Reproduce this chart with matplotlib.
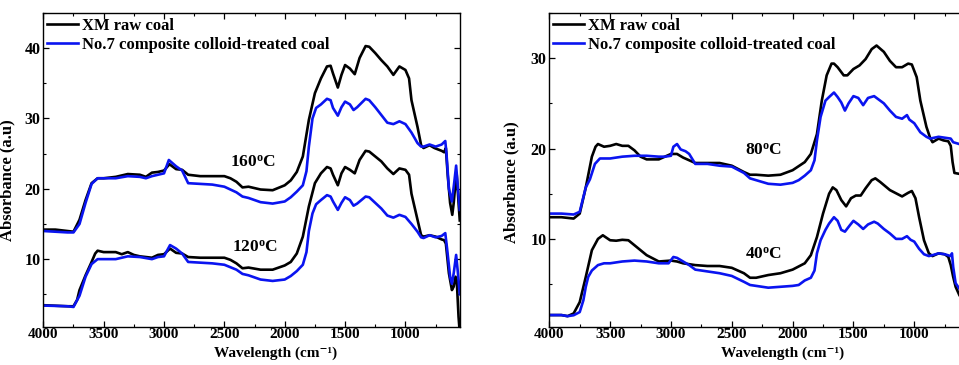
import matplotlib
matplotlib.use("Agg")
import matplotlib.pyplot as plt
from matplotlib.ticker import MultipleLocator

plt.rcParams['font.family'] = ['Liberation Serif', 'DejaVu Serif']
plt.rcParams['font.weight'] = 'bold'
plt.rcParams['mathtext.fontset'] = 'custom'
plt.rcParams['mathtext.rm'] = 'Liberation Serif:bold'
plt.rcParams['mathtext.bf'] = 'Liberation Serif:bold'
plt.rcParams['mathtext.it'] = 'Liberation Serif:italic:bold'

legend_labels = ["XM raw coal", "No.7 composite colloid-treated coal"]
temp_labels = ["160$^{\\mathrm{o}}$C", "120$^{\\mathrm{o}}$C", "80$^{\\mathrm{o}}$C", "40$^{\\mathrm{o}}$C"]
xlabel_text = "Wavelength (cm\u207b\u00b9)"
ylabel_text = "Absorbance (a.u)"
xticks = [4000, 3500, 3000, 2500, 2000, 1500, 1000]

# ---------- Left panel: 160 C ----------
wn_160_raw = [4000, 3900, 3800, 3750, 3700, 3650, 3600, 3550, 3500, 3400, 3300, 3200, 3150, 3100, 3050,
              3000, 2955, 2900, 2850, 2800, 2700, 2500, 2450, 2400, 2350, 2300, 2200, 2100, 2000, 1950,
              1900, 1850, 1800, 1750, 1700, 1650, 1620, 1600, 1560, 1530, 1500, 1460, 1420, 1380, 1330,
              1300, 1250, 1200, 1150, 1100, 1050, 1000, 970, 950, 900, 870, 850, 800, 760, 700, 680,
              665, 650, 630, 612, 600, 585, 575, 560, 550]
ab_160_raw = [14.2, 14.2, 14.0, 13.9, 15.6, 18.4, 20.8, 21.5, 21.5, 21.7, 22.1, 22.0, 21.7, 22.3, 22.4,
              22.6, 23.5, 22.8, 22.7, 22.0, 21.8, 21.8, 21.5, 21.0, 20.2, 20.3, 19.9, 19.8, 20.5, 21.2,
              22.4, 24.6, 29.8, 33.6, 35.7, 37.4, 37.5, 36.4, 34.4, 36.2, 37.6, 37.1, 36.3, 38.6, 40.3,
              40.2, 39.3, 38.3, 37.4, 36.2, 37.4, 36.9, 35.7, 32.6, 28.8, 26.2, 25.8, 26.2, 25.8, 25.4, 25.2,
              25.8, 22.0, 18.0, 16.3, 18.0, 21.0, 22.0, 18.0, 15.5]

wn_160_trt = [4000, 3800, 3750, 3700, 3650, 3600, 3550, 3500, 3400, 3300, 3200, 3150, 3100, 3050, 3000,
              2960, 2900, 2850, 2800, 2700, 2600, 2500, 2400, 2350, 2300, 2200, 2100, 2000, 1950, 1900,
              1850, 1820, 1800, 1770, 1740, 1700, 1650, 1620, 1600, 1560, 1530, 1500, 1460, 1430, 1400,
              1330, 1300, 1250, 1200, 1150, 1100, 1050, 1000, 950, 900, 870, 850, 800, 750, 700, 670,
              660, 640, 615, 595, 580, 565, 550]
ab_160_trt = [14.0, 13.8, 13.8, 15.0, 18.0, 20.7, 21.5, 21.5, 21.5, 21.8, 21.7, 21.5, 21.8, 22.0, 22.2,
              24.1, 23.2, 22.6, 20.8, 20.7, 20.6, 20.3, 19.5, 18.9, 18.7, 18.1, 17.9, 18.2, 18.8, 19.6,
              20.5, 22.5, 26.0, 30.0, 31.5, 32.0, 32.8, 32.6, 31.5, 30.4, 31.6, 32.4, 32.0, 31.2, 31.6,
              32.8, 32.6, 31.6, 30.5, 29.4, 29.2, 29.6, 29.2, 28.0, 26.5, 26.0, 26.0, 26.3, 26.0, 26.3, 26.8,
              25.0, 20.0, 18.2, 21.0, 23.3, 20.0, 17.0]

# ---------- Left panel: 120 C ----------
wn_120_raw = [4000, 3800, 3750, 3720, 3700, 3650, 3600, 3570, 3550, 3500, 3400, 3350, 3300, 3250, 3200,
              3100, 3050, 3000, 2950, 2900, 2850, 2800, 2700, 2500, 2450, 2400, 2350, 2300, 2200, 2100,
              2000, 1950, 1900, 1850, 1800, 1750, 1700, 1650, 1620, 1600, 1560, 1530, 1500, 1460, 1420,
              1380, 1330, 1300, 1250, 1200, 1150, 1100, 1050, 1000, 970, 950, 900, 870, 850, 800, 750,
              700, 680, 665, 640, 615, 600, 585, 575, 560, 552]
ab_120_raw = [3.45, 3.3, 3.3, 4.2, 5.6, 7.7, 9.6, 10.8, 11.2, 11.0, 11.0, 10.7, 11.0, 10.6, 10.4,
              10.2, 10.6, 10.7, 11.5, 10.9, 10.8, 10.3, 10.2, 10.2, 9.9, 9.4, 8.7, 8.8, 8.5, 8.5,
              9.1, 9.6, 10.8, 13.2, 17.5, 20.8, 22.2, 23.1, 22.9, 22.0, 20.5, 22.2, 23.1, 22.7, 22.2,
              24.1, 25.4, 25.3, 24.6, 23.9, 22.9, 22.1, 22.9, 22.7, 22.0, 19.3, 15.6, 13.4, 13.2, 13.4, 13.2,
              12.8, 12.7, 12.2, 8.0, 5.6, 6.1, 7.5, 7.0, 1.8, 0.0]

wn_120_trt = [4000, 3800, 3750, 3700, 3650, 3600, 3550, 3500, 3400, 3300, 3200, 3100, 3050, 3000, 2950,
              2900, 2850, 2800, 2700, 2600, 2500, 2400, 2350, 2300, 2200, 2100, 2000, 1950, 1900, 1850,
              1820, 1800, 1770, 1740, 1700, 1650, 1620, 1600, 1560, 1530, 1500, 1460, 1430, 1400, 1330,
              1300, 1250, 1200, 1150, 1100, 1050, 1000, 950, 900, 870, 850, 800, 750, 700, 670, 655,
              630, 615, 600, 580, 565, 550]
ab_120_trt = [3.4, 3.3, 3.2, 4.8, 7.5, 9.3, 10.0, 10.0, 10.0, 10.4, 10.3, 10.0, 10.3, 10.4, 12.0,
              11.5, 10.8, 9.6, 9.5, 9.4, 9.2, 8.5, 7.9, 7.7, 7.1, 6.9, 7.1, 7.6, 8.3, 9.2,
              11.0, 14.0, 16.5, 17.8, 18.4, 19.1, 18.9, 18.2, 17.0, 18.0, 18.8, 18.4, 17.6, 17.9, 18.9,
              18.8, 18.0, 17.2, 16.2, 15.9, 16.3, 16.0, 15.0, 13.9, 13.1, 13.0, 13.4, 13.1, 13.3, 13.7, 11.5,
              7.5, 6.5, 8.0, 10.6, 8.0, 5.0]

# ---------- Right panel: 80 C ----------
wn_80_raw = [4000, 3900, 3800, 3750, 3700, 3650, 3620, 3600, 3550, 3500, 3450, 3400, 3350, 3300, 3250,
             3200, 3100, 3000, 2950, 2900, 2800, 2700, 2600, 2500, 2400, 2350, 2300, 2200, 2100, 2000,
             1900, 1850, 1800, 1760, 1720, 1680, 1660, 1630, 1580, 1550, 1500, 1450, 1400, 1350, 1310,
             1250, 1200, 1150, 1100, 1050, 1020, 980, 950, 900, 870, 850, 800, 760, 720, 700, 685,
             670, 630]
ab_80_raw = [12.4, 12.4, 12.25, 12.8, 15.7, 19.1, 20.2, 20.5, 20.2, 20.3, 20.5, 20.3, 20.3, 19.8, 19.1,
             18.8, 18.8, 19.4, 19.4, 19.0, 18.4, 18.4, 18.4, 18.1, 17.4, 17.1, 17.1, 17.0, 17.1, 17.6,
             18.5, 19.4, 21.6, 25.3, 28.1, 29.4, 29.4, 29.0, 28.1, 28.1, 28.8, 29.2, 29.9, 31.0, 31.4,
             30.7, 29.7, 29.0, 29.0, 29.4, 29.3, 27.9, 25.3, 22.4, 21.2, 20.7, 21.1, 20.9, 20.8, 20.3, 18.5,
             17.3, 17.2]

wn_80_trt = [4000, 3900, 3800, 3750, 3700, 3666, 3625, 3584, 3550, 3500, 3400, 3300, 3200, 3100, 3050,
             3000, 2980, 2950, 2920, 2880, 2850, 2800, 2700, 2600, 2500, 2400, 2350, 2300, 2200, 2100,
             2000, 1950, 1900, 1850, 1820, 1800, 1770, 1730, 1700, 1660, 1630, 1600, 1570, 1540, 1500,
             1460, 1420, 1380, 1330, 1300, 1250, 1200, 1150, 1100, 1060, 1040, 1000, 950, 900, 870,
             800, 750, 700, 680, 630]
ab_80_trt = [12.8, 12.8, 12.7, 13.0, 15.7, 16.6, 18.3, 18.9, 18.9, 18.9, 19.1, 19.2, 19.2, 19.1, 19.1,
             19.2, 20.2, 20.5, 19.9, 19.7, 19.4, 18.3, 18.3, 18.1, 18.0, 17.3, 16.7, 16.5, 16.1, 16.0,
             16.2, 16.5, 17.0, 17.6, 18.7, 20.9, 23.5, 25.3, 25.7, 26.2, 25.7, 25.1, 24.2, 25.0, 25.8,
             25.6, 24.8, 25.6, 25.8, 25.5, 25.0, 24.2, 23.5, 23.3, 23.7, 23.2, 22.8, 21.8, 21.3, 21.1,
             21.3, 21.2, 21.1, 20.7, 20.5]

# ---------- Right panel: 40 C ----------
wn_40_raw = [4000, 3900, 3850, 3800, 3750, 3700, 3650, 3600, 3560, 3500, 3450, 3400, 3350, 3300, 3200,
             3100, 3000, 2950, 2900, 2800, 2700, 2600, 2500, 2400, 2350, 2300, 2200, 2100, 2000, 1900,
             1850, 1800, 1750, 1700, 1670, 1640, 1600, 1560, 1520, 1480, 1440, 1400, 1350, 1320, 1280,
             1200, 1100, 1050, 1020, 990, 960, 920, 880, 850, 800, 750, 720, 700, 680, 660, 630]
ab_40_raw = [1.57, 1.57, 1.45, 1.75, 3.0, 5.8, 8.75, 10.0, 10.4, 9.85, 9.8, 9.9, 9.85, 9.3, 8.2,
             7.5, 7.6, 7.5, 7.3, 7.1, 7.0, 7.0, 6.8, 6.2, 5.7, 5.7, 6.0, 6.2, 6.6, 7.3,
             8.2, 10.2, 12.8, 15.0, 15.7, 15.4, 14.3, 13.6, 14.5, 14.8, 14.8, 15.6, 16.5, 16.7, 16.3,
             15.4, 14.7, 15.1, 15.3, 14.5, 12.4, 9.85, 8.4, 8.1, 8.4, 8.3, 8.0, 7.1, 5.8, 4.7, 3.8]

wn_40_trt = [4000, 3900, 3850, 3800, 3750, 3720, 3700, 3680, 3650, 3600, 3550, 3500, 3400, 3300, 3200,
             3100, 3020, 2980, 2950, 2900, 2850, 2800, 2700, 2600, 2500, 2400, 2350, 2300, 2200, 2100,
             2000, 1950, 1900, 1850, 1820, 1800, 1770, 1730, 1700, 1660, 1630, 1600, 1570, 1530, 1500,
             1460, 1420, 1380, 1330, 1300, 1250, 1200, 1150, 1100, 1060, 1030, 1000, 960, 920, 880,
             850, 800, 750, 700, 690, 680, 660, 630]
ab_40_trt = [1.57, 1.57, 1.45, 1.55, 1.9, 3.2, 4.7, 5.8, 6.5, 7.1, 7.3, 7.3, 7.5, 7.6, 7.5,
             7.3, 7.3, 8.0, 7.9, 7.5, 7.1, 6.6, 6.4, 6.2, 5.9, 5.25, 4.9, 4.8, 4.6, 4.7,
             4.8, 4.9, 5.4, 5.7, 6.5, 8.4, 9.85, 11.0, 11.7, 12.4, 12.0, 11.0, 10.8, 11.5, 12.0,
             11.6, 11.1, 11.6, 11.9, 11.7, 11.1, 10.6, 10.0, 10.0, 10.3, 9.9, 9.7, 8.9, 8.3, 8.1,
             8.2, 8.4, 8.3, 8.1, 8.4, 6.9, 5.1, 4.5]

W, H = 959, 365
fig = plt.figure(figsize=(W / 100, H / 100), dpi=100)

ax1 = fig.add_axes([43.3 / W, 1 - 327 / H, (460 - 43.3) / W, (327 - 13) / H])
ax2 = fig.add_axes([549.3 / W, 1 - 327 / H, (969 - 549.3) / W, (327 - 13) / H])

lw = 1.9
blue = '#0a14f0'
ax1.plot(wn_160_raw, ab_160_raw, color='black', lw=lw, label=legend_labels[0])
ax1.plot(wn_160_trt, ab_160_trt, color=blue, lw=lw, label=legend_labels[1])
ax1.plot(wn_120_raw, ab_120_raw, color='black', lw=lw)
ax1.plot(wn_120_trt, ab_120_trt, color=blue, lw=lw)

ax2.plot(wn_80_raw, ab_80_raw, color='black', lw=lw, label=legend_labels[0])
ax2.plot(wn_80_trt, ab_80_trt, color=blue, lw=lw, label=legend_labels[1])
ax2.plot(wn_40_raw, ab_40_raw, color='black', lw=lw)
ax2.plot(wn_40_trt, ab_40_trt, color=blue, lw=lw)

ax1.set_xlim(4000, 548)
ax1.set_ylim(0.35, 45)
ax2.set_xlim(4000, 550)
ax2.set_ylim(0.25, 35)
ax1.set_yticks([10, 20, 30, 40])
ax2.set_yticks([10, 20, 30])

for ax in (ax1, ax2):
    ax.set_xticks(xticks)
    ax.xaxis.set_minor_locator(MultipleLocator(250))
    ax.yaxis.set_minor_locator(MultipleLocator(5))
    ax.tick_params(which='both', direction='in', top=True, right=True, labelsize=11.5, pad=2)
    ax.tick_params(axis='x', which='both', labelsize=11, pad=1)
    ax.tick_params(which='major', length=4, width=0.9)
    ax.tick_params(which='minor', length=2.5, width=0.8)
    for s in ax.spines.values():
        s.set_linewidth(1.0)
    for lab in ax.get_xticklabels() + ax.get_yticklabels():
        lab.set_fontweight('bold')
    ax.set_xlabel(xlabel_text, fontsize=11, fontweight='bold', labelpad=0)
    ax.set_ylabel(ylabel_text, fontsize=12, fontweight='bold')
    leg = ax.legend(loc='upper left', bbox_to_anchor=(0.008, 0.985), frameon=False,
                    fontsize=12, handlelength=1.9, handletextpad=0.2, labelspacing=0.2,
                    borderpad=0, borderaxespad=0)
    for t in leg.get_texts():
        t.set_fontweight('bold')

ax1.xaxis.set_label_coords(0.558, -0.061)
ax2.xaxis.set_label_coords(0.556, -0.061)
ax1.yaxis.set_label_coords(-0.068, 0.468)
ax2.yaxis.set_label_coords(-0.072, 0.46)

ax1.text(2265, 23.7, temp_labels[0], fontsize=12.5, fontweight='bold', ha='center', va='center')
ax1.text(2250, 11.7, temp_labels[1], fontsize=12.5, fontweight='bold', ha='center', va='center')
ax2.text(2242, 19.8, temp_labels[2], fontsize=12.5, fontweight='bold', ha='center', va='center')
ax2.text(2240, 8.3, temp_labels[3], fontsize=12.5, fontweight='bold', ha='center', va='center')

fig.savefig("out.png", dpi=100)
